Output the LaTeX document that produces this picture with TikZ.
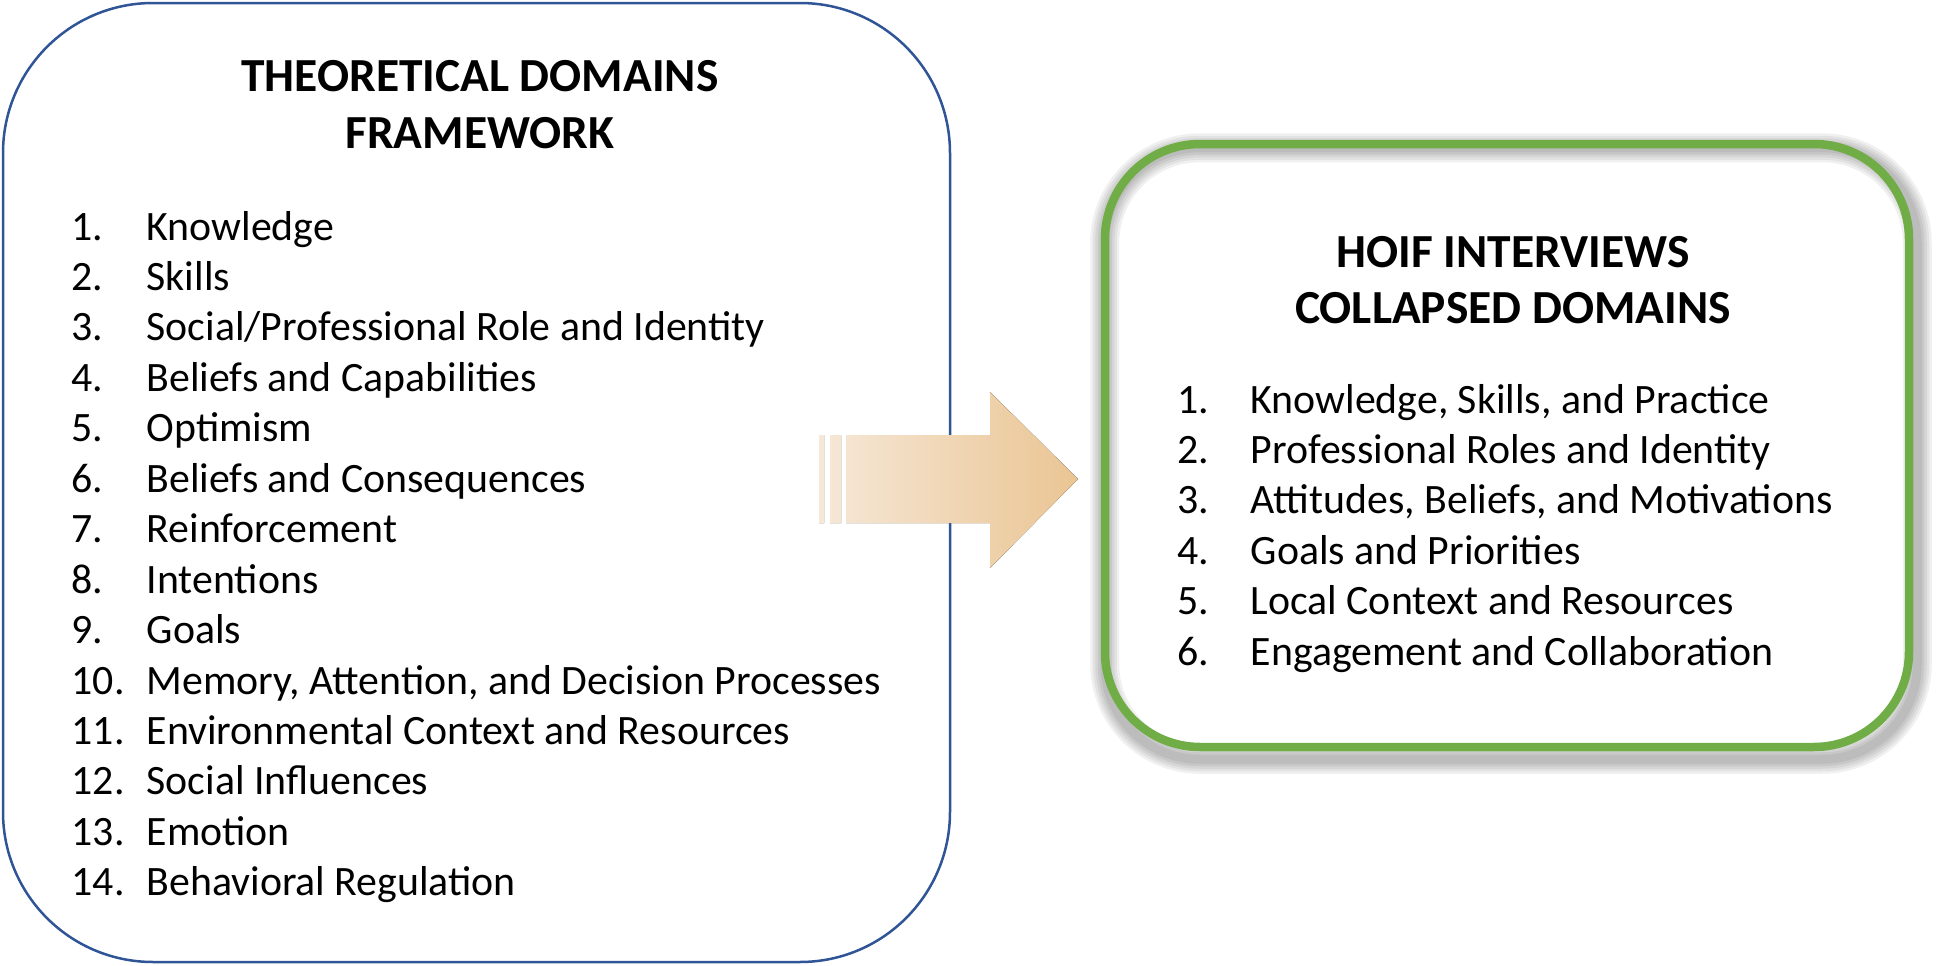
\documentclass[tikz,border=0pt]{standalone}
\usepackage{fontspec}
\setmainfont{Carlito}
\usetikzlibrary{positioning,backgrounds}
\definecolor{tdfblue}{HTML}{2F5597}
\definecolor{hoifgreen}{HTML}{70AD47}
\definecolor{peachlight}{HTML}{F6E8D8}
\definecolor{peachdark}{HTML}{EAC593}

\begin{document}
\begin{tikzpicture}[
 x=0.1mm,y=-0.1mm,
 tdfframe/.style={draw=tdfblue,line width=0.25mm,rounded corners=15mm,minimum width=94.7mm,minimum height=95.9mm,inner sep=0pt},
 hoifframe/.style={draw=hoifgreen,line width=0.85mm,rounded corners=9.5mm,minimum width=80.4mm,minimum height=60.3mm,inner sep=0pt},
 heading/.style={anchor=base,inner sep=0pt,font=\fontsize{13.5}{16}\selectfont\bfseries},
 num/.style={anchor=base west,inner sep=0pt,font=\fontsize{11.9}{14}\selectfont},
 itm/.style={num},
 hoifshadow/.style={draw=black,opacity=0.06,rounded corners=9.5mm},
 flow/.style={left color=peachlight,right color=peachdark}
]
\useasboundingbox (0,0) rectangle (1946,966);
\node[tdfframe] (tdf) at (476.5,482.5) {};
\node[hoifframe] (hoif) at (1507,445.5) {};
\begin{scope}[on background layer]
\foreach \w in {0.9,1.4,1.9,2.4,2.9}{\draw[hoifshadow,line width=\w mm] ([shift={(0.4mm,-0.8mm)}]hoif.south west) rectangle ([shift={(0.4mm,-0.8mm)}]hoif.north east);}
\end{scope}
\node[heading] (tdfhead1) at (480,92) {THEORETICAL DOMAINS};
\node[heading] (tdfhead2) at (480,148) {FRAMEWORK};
\node[heading] (hoifhead1) at (1513,267) {HOIF INTERVIEWS};
\node[heading] (hoifhead2) at (1513,323) {COLLAPSED DOMAINS};
\foreach \txt [count=\i] in {Knowledge,Skills,Social/Professional Role and Identity,Beliefs and Capabilities,Optimism,Beliefs and Consequences,Reinforcement,Intentions,Goals,{Memory, Attention, and Decision Processes},Environmental Context and Resources,Social Influences,Emotion,Behavioral Regulation}{
 \node[num] (tdfn\i) at (71,{240+(\i-1)*50.45}) {\i.};
 \node[itm] (tdfi\i) at (146,{240+(\i-1)*50.45}) {\txt};}
\foreach \txt [count=\i] in {{Knowledge, Skills, and Practice},Professional Roles and Identity,{Attitudes, Beliefs, and Motivations},Goals and Priorities,Local Context and Resources,Engagement and Collaboration}{
 \node[num] (hoifn\i) at (1177,{413+(\i-1)*50.4}) {\i.};
 \node[itm] (hoifi\i) at (1250,{413+(\i-1)*50.4}) {\txt};}
\fill[flow] (819,435) rectangle (824,523) (830,435) rectangle (841,523)
 (846,435) -- (990,435) -- (990,392) -- (1078,479) -- (990,568) -- (990,523) -- (846,523) -- cycle;
\end{tikzpicture}
\end{document}
